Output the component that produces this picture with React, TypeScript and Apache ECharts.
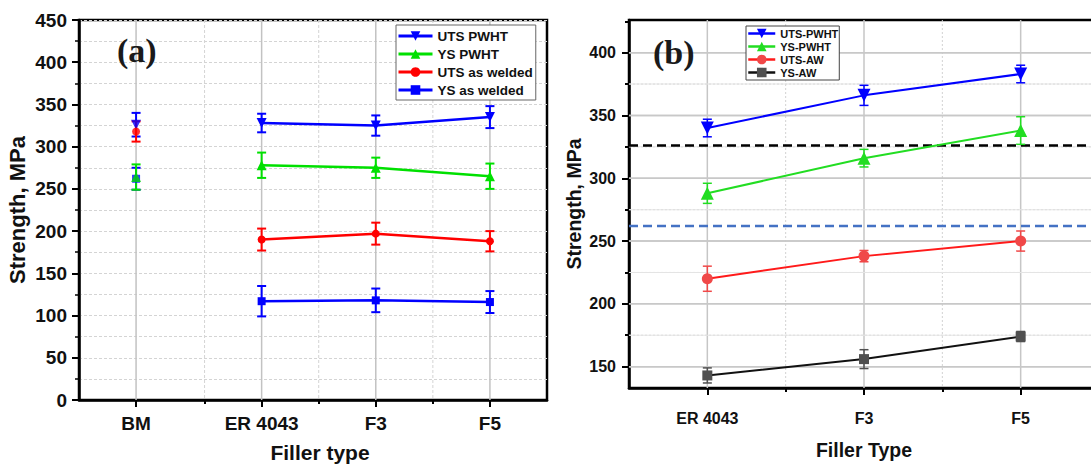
import React, { useEffect, useRef } from 'react';
import * as echarts from 'echarts';

// ---------- Panel (a) data ----------
const catsA = ['BM', 'ER 4043', 'F3', 'F5'];
const xPosA = [0.9, 2, 3, 4];
const xMinorA = [1.5, 2.5, 3.5];
const utsPwhtA = [326, 328, 325, 335];
const utsPwhtAErr = [14, 11, 12, 13];
const ysPwhtA = [264, 278, 275, 265];
const ysPwhtAErr = [15, 15, 12, 15];
const utsAwA = [318, 190, 197, 188];
const utsAwAErr = [12, 13, 13, 12];
const ysAwA = [262, 117, 118, 116];
const ysAwAErr = [13, 18, 14, 13];

// ---------- Panel (b) data ----------
const catsB = ['ER 4043', 'F3', 'F5'];
const xPosB = [1, 2, 3];
const xMinorB = [1.5, 2.5, 3.5];
const utsPwhtB = [340, 366, 383];
const utsPwhtBErr = [7, 8, 7];
const ysPwhtB = [288, 316, 338];
const ysPwhtBErr = [8, 7, 11];
const utsAwB = [220, 238, 250];
const utsAwBErr = [10, 4.5, 8];
const ysAwB = [143, 156, 174];
const ysAwBErr = [6, 7.5, 4];
const refLinesB = [326, 262]; // BM UTS, BM YS
const yMajorB = [150, 200, 250, 300, 350, 400];
const yMinorB = [175, 225, 275, 325, 375, 425];

const F = '"Liberation Sans", Arial, Helvetica, sans-serif';

const X_MIN_A = 0.4;
const X_MAX_A = 4.5;
const X_MIN_B = 0.5;
const X_MAX_B = 3.5;
const Y_MIN_B = 133;
const Y_MAX_B = 426;

const SOLID_B = { stroke: '#c6c6c6', lineWidth: 1.5 };
const DOT_B = { stroke: '#d2d2d2', lineWidth: 1, lineDash: [2, 2] };
const SERIF = 'bold 34px "Liberation Serif", "Times New Roman", serif';

function errBars(xs: number[], ys: number[], errs: number[], color: string, lw: number, cap: number, xi: number, yi: number) {
  return {
    type: 'custom',
    xAxisIndex: xi,
    yAxisIndex: yi,
    z: 7,
    silent: true,
    data: ys.map((v, i) => [xs[i], v - errs[i], v + errs[i]]),
    encode: { x: 0, y: [1, 2] },
    renderItem: (params: any, api: any) => {
      const x = api.value(0);
      const lo = api.value(1);
      const hi = api.value(2);
      const t = api.coord([x, hi]);
      const b = api.coord([x, lo]);
      const style = { stroke: color, lineWidth: lw, fill: 'none' };
      return {
        type: 'group',
        children: [
          { type: 'line', shape: { x1: t[0], y1: t[1], x2: b[0], y2: b[1] }, style },
          { type: 'line', shape: { x1: t[0] - cap, y1: t[1], x2: t[0] + cap, y2: t[1] }, style },
          { type: 'line', shape: { x1: b[0] - cap, y1: b[1], x2: b[0] + cap, y2: b[1] }, style },
        ],
      };
    },
  };
}

// grid / reference lines drawn through the axes' own scales
function rules(xi: number, yi: number, vals: number[], dir: 'h' | 'v', other: number, style: any, z: number) {
  return {
    type: 'custom',
    xAxisIndex: xi,
    yAxisIndex: yi,
    z,
    silent: true,
    clip: false,
    data: vals.map((v) => (dir === 'h' ? [other, v] : [v, other])),
    encode: { x: 0, y: 1 },
    renderItem: (params: any, api: any) => {
      const cs = params.coordSys;
      const p = api.coord([api.value(0), api.value(1)]);
      const shape = dir === 'h'
        ? { x1: cs.x, y1: p[1], x2: Math.min(cs.x + cs.width, 1091), y2: p[1] }
        : { x1: p[0], y1: cs.y, x2: p[0], y2: cs.y + cs.height };
      return { type: 'line', shape, style: { fill: 'none', ...style } };
    },
  };
}

// horizontal grid bands as thin filled rects (panel b)
function bands(xi: number, yi: number, vals: number[], other: number, fill: string, h: number, z: number) {
  return {
    type: 'custom',
    xAxisIndex: xi,
    yAxisIndex: yi,
    z,
    silent: true,
    clip: false,
    data: vals.map((v) => [other, v]),
    encode: { x: 0, y: 1 },
    renderItem: (params: any, api: any) => {
      const cs = params.coordSys;
      const p = api.coord([api.value(0), api.value(1)]);
      const x2 = Math.min(cs.x + cs.width, 1091);
      return { type: 'rect', shape: { x: cs.x, y: p[1] - h / 2, width: x2 - cs.x, height: h }, style: { fill } };
    },
  };
}

function lineS(name: string, pts: number[][], color: string, symbol: string, size: number, rotate: number, lw: number, xi: number, yi: number, markerColor?: string) {
  return {
    type: 'line',
    name,
    xAxisIndex: xi,
    yAxisIndex: yi,
    data: pts,
    symbol,
    symbolSize: size,
    symbolRotate: rotate,
    showSymbol: true,
    showAllSymbol: true,
    lineStyle: { color, width: lw },
    itemStyle: { color: markerColor || color },
    z: 8,
    silent: true,
    emphasis: { disabled: true },
  };
}

function bmScatter(x: number, y: number, color: string, symbol: string, size: number, rotate: number) {
  return {
    type: 'scatter',
    name: 'bm-' + color + symbol,
    xAxisIndex: 0,
    yAxisIndex: 0,
    data: [[x, y]],
    symbol,
    symbolSize: size,
    symbolRotate: rotate,
    itemStyle: { color },
    z: 8,
    silent: true,
  };
}

function near(arr: number[], v: number) {
  return arr.findIndex((a) => Math.abs(a - v) < 1e-6);
}

function labelTexts() {
  return [
    { id: 'ta', type: 'text', x: 117, y: 50, z: 30, style: { text: '(a)', font: SERIF, fill: '#1a1a1a', verticalAlign: 'middle' } },
    { id: 'tb', type: 'text', x: 653, y: 52, z: 30, style: { text: '(b)', font: SERIF, fill: '#1a1a1a', verticalAlign: 'middle' } },
  ];
}

function buildOption() {
  const solidA = { stroke: '#c2c2c2', lineWidth: 1.5 };
  const dashA = { stroke: '#d4d4d4', lineWidth: 1, lineDash: [3, 2] };

  const ptsA = (vals: number[]) => xPosA.slice(1).map((x, i) => [x, vals[i + 1]]);
  const ptsB = (vals: number[]) => xPosB.map((x, i) => [x, vals[i]]);

  const axisLine = { show: true, onZero: false, lineStyle: { color: '#000', width: 2.5 } };
  const tickStyle = { color: '#000', width: 2 };

  const greenA = '#00e000';
  const greenB = '#22dd22';

  return {
    animation: false,
    backgroundColor: '#fff',
    grid: [
      { left: 79, top: 20, width: 468, height: 380, show: true, borderColor: '#000', borderWidth: 2.5, backgroundColor: 'transparent', outerBoundsMode: 'none' },
      { left: 629, top: 20, width: 470, height: 368, show: true, borderColor: '#000', borderWidth: 2.5, backgroundColor: 'transparent', outerBoundsMode: 'none' },
    ],
    xAxis: [
      {
        gridIndex: 0, type: 'value', min: X_MIN_A, max: X_MAX_A, position: 'bottom',
        axisLine,
        axisTick: { show: true, customValues: xPosA.slice(), length: 7, lineStyle: tickStyle },
        axisLabel: {
          customValues: xPosA.slice(), margin: 14, fontSize: 19, fontWeight: 'bold', color: '#111', fontFamily: F,
          formatter: (v: number) => catsA[near(xPosA, v)] ?? '',
        },
        splitLine: { show: false },
        name: 'Filler type', nameLocation: 'middle', nameGap: 42,
        nameTextStyle: { fontSize: 21, fontWeight: 'bold', color: '#111', fontFamily: F, padding: [0, 0, 0, 14] },
      },
      {
        gridIndex: 0, type: 'value', min: X_MIN_A, max: X_MAX_A, position: 'bottom',
        axisLine: { show: false },
        axisTick: { show: true, customValues: xMinorA.slice(), length: 4, lineStyle: tickStyle },
        axisLabel: { show: false },
        splitLine: { show: false },
      },
      {
        gridIndex: 1, type: 'value', min: X_MIN_B, max: X_MAX_B, position: 'bottom',
        axisLine,
        axisTick: { show: true, customValues: xPosB.slice(), length: 7, lineStyle: tickStyle },
        axisLabel: {
          customValues: xPosB.slice(), margin: 22, fontSize: 16, fontWeight: 'bold', color: '#111', fontFamily: F,
          formatter: (v: number) => catsB[near(xPosB, v)] ?? '',
        },
        splitLine: { show: false },
        name: 'Filler Type', nameLocation: 'middle', nameGap: 52,
        nameTextStyle: { fontSize: 19.5, fontWeight: 'bold', color: '#111', fontFamily: F },
      },
      {
        gridIndex: 1, type: 'value', min: X_MIN_B, max: X_MAX_B, position: 'bottom',
        axisLine: { show: false },
        axisTick: { show: true, customValues: xMinorB.slice(), length: 4, lineStyle: tickStyle },
        axisLabel: { show: false },
        splitLine: { show: false },
      },
    ],
    yAxis: [
      {
        gridIndex: 0, type: 'value', min: 0, max: 450, interval: 50, position: 'left',
        axisLine,
        axisTick: { show: true, length: 7, lineStyle: tickStyle },
        minorTick: { show: true, splitNumber: 2, length: 4, lineStyle: { color: '#000', width: 1.5 } },
        splitLine: { show: true, lineStyle: { color: '#d4d4d4', width: 1, type: [3, 2] } },
        minorSplitLine: { show: true, lineStyle: { color: '#d4d4d4', width: 1, type: [3, 2] } },
        axisLabel: { margin: 12, fontSize: 19, fontWeight: 'bold', color: '#111', fontFamily: F },
        name: 'Strength, MPa', nameLocation: 'middle', nameGap: 51, nameRotate: 90,
        nameTextStyle: { fontSize: 22, fontWeight: 'bold', color: '#111', fontFamily: F },
      },
      {
        gridIndex: 1, type: 'value', min: Y_MIN_B, max: Y_MAX_B, position: 'left',
        axisLine,
        axisTick: { show: true, customValues: yMajorB.slice(), length: 7, lineStyle: tickStyle },
        axisLabel: { customValues: yMajorB.slice(), margin: 13, fontSize: 16, fontWeight: 'bold', color: '#111', fontFamily: F },
        splitLine: { show: false },
        name: 'Strength, MPa', nameLocation: 'middle', nameGap: 45, nameRotate: 90,
        nameTextStyle: { fontSize: 19.5, fontWeight: 'bold', color: '#111', fontFamily: F },
      },
      {
        gridIndex: 1, type: 'value', min: Y_MIN_B, max: Y_MAX_B, position: 'left',
        axisLine: { show: false },
        axisTick: { show: true, customValues: yMinorB.slice(), length: 4, lineStyle: tickStyle },
        axisLabel: { show: false },
        splitLine: { show: false },
      },
    ],
    legend: [
      {
        left: 396, top: 25, orient: 'vertical', selectedMode: false,
        data: ['UTS PWHT', 'YS PWHT', 'UTS as welded', 'YS as welded'],
        itemWidth: 34, itemHeight: 12, itemGap: 4, padding: [4, 3, 3, 1],
        borderColor: '#666', borderWidth: 1, backgroundColor: '#fff',
        textStyle: { fontSize: 13.5, fontWeight: 'bold', color: '#111', fontFamily: F },
        lineStyle: { width: 3 },
        z: 20,
      },
      {
        left: 746, top: 26, orient: 'vertical', selectedMode: false,
        data: ['UTS-PWHT', 'YS-PWHT', 'UTS-AW', 'YS-AW'],
        itemWidth: 27, itemHeight: 12, itemGap: 2, padding: [2, 1, 2, 1],
        borderColor: '#444', borderWidth: 1, backgroundColor: '#fff',
        textStyle: { fontSize: 11, fontWeight: 'bold', color: '#111', fontFamily: F },
        lineStyle: { width: 2.5 },
        z: 20,
      },
    ],
    graphic: { elements: labelTexts() },
    series: [
      // legend-representative line series first
      lineS('UTS PWHT', ptsA(utsPwhtA), '#0000ff', 'triangle', 10, 180, 2.5, 0, 0),
      lineS('YS PWHT', ptsA(ysPwhtA), greenA, 'triangle', 10, 0, 2.5, 0, 0),
      lineS('UTS as welded', ptsA(utsAwA), '#ff0000', 'circle', 8, 0, 2.5, 0, 0),
      lineS('YS as welded', ptsA(ysAwA), '#0000ff', 'rect', 8, 0, 2.5, 0, 0),
      lineS('UTS-PWHT', ptsB(utsPwhtB), '#0000ff', 'triangle', 13, 180, 2, 2, 1),
      lineS('YS-PWHT', ptsB(ysPwhtB), greenB, 'triangle', 13, 0, 2, 2, 1),
      lineS('UTS-AW', ptsB(utsAwB), '#ff1a1a', 'circle', 11, 0, 2, 2, 1, '#f04848'),
      lineS('YS-AW', ptsB(ysAwB), '#111111', 'rect', 10, 0, 2, 2, 1, '#505050'),
      // BM points (panel a)
      bmScatter(xPosA[0], ysAwA[0], '#0000ff', 'rect', 8, 0),
      bmScatter(xPosA[0], ysPwhtA[0], greenA, 'triangle', 10, 0),
      bmScatter(xPosA[0], utsPwhtA[0], '#0000ff', 'triangle', 10, 180),
      bmScatter(xPosA[0], utsAwA[0], '#ff0000', 'circle', 8, 0),
      // error bars
      errBars(xPosA, ysAwA, ysAwAErr, '#0000ff', 2, 4.5, 0, 0),
      errBars(xPosA, ysPwhtA, ysPwhtAErr, greenA, 2, 4.5, 0, 0),
      errBars(xPosA, utsPwhtA, utsPwhtAErr, '#0000ff', 2, 4.5, 0, 0),
      errBars(xPosA, utsAwA, utsAwAErr, '#ff0000', 2, 4.5, 0, 0),
      errBars(xPosB, utsPwhtB, utsPwhtBErr, '#0000ff', 1.5, 4.5, 2, 1),
      errBars(xPosB, ysPwhtB, ysPwhtBErr, greenB, 1.5, 4.5, 2, 1),
      errBars(xPosB, utsAwB, utsAwBErr, '#f04848', 1.5, 4.5, 2, 1),
      errBars(xPosB, ysAwB, ysAwBErr, '#505050', 1.5, 4.5, 2, 1),
      // gridlines panel (a)
      rules(0, 0, xPosA.slice(), 'v', 0, solidA, 5),
      rules(0, 0, xMinorA.slice(), 'v', 0, dashA, 5),
      // gridlines panel (b)
      rules(2, 1, xPosB.slice(), 'v', Y_MIN_B, SOLID_B, 5),
      rules(2, 1, xMinorB.slice(0, 2), 'v', Y_MIN_B, DOT_B, 5),
      rules(2, 1, yMajorB.slice(), 'h', X_MIN_B, SOLID_B, 5),
      rules(2, 1, yMinorB.slice(0, 5), 'h', X_MIN_B, DOT_B, 5),
      bands(2, 1, yMajorB.slice(), X_MIN_B, '#c8c8c8', 1.5, 5),
      bands(2, 1, yMinorB.slice(0, 5), X_MIN_B, '#e4e4e4', 1, 5),
      // reference dashed lines (panel b)
      rules(2, 1, [refLinesB[0]], 'h', X_MIN_B, { stroke: '#000', lineWidth: 2.5, lineDash: [9, 5] }, 6),
      rules(2, 1, [refLinesB[1]], 'h', X_MIN_B, { stroke: '#4472c4', lineWidth: 2.5, lineDash: [9, 5] }, 6),
    ],
  };
}

export default function App() {
  const ref = useRef<HTMLDivElement>(null);
  useEffect(() => {
    const chart = echarts.init(ref.current as HTMLDivElement, null, { renderer: 'svg' });
    chart.setOption(buildOption() as any);
    return () => chart.dispose();
  }, []);
  return (
    <div
      ref={ref}
      style={{ position: 'fixed', left: 0, top: 0, width: 1091, height: 467, background: '#fff' }}
    />
  );
}
